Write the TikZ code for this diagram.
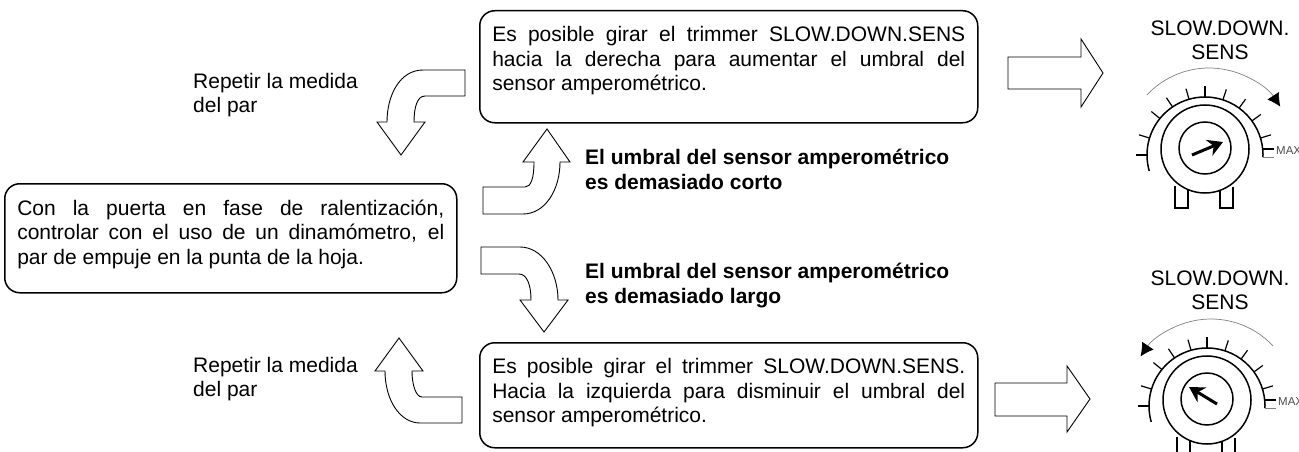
\documentclass[tikz,border=0pt]{standalone}
\usepackage{amsmath}
\usepackage{fontspec}
\setmainfont{Liberation Sans}
\usetikzlibrary{arrows.meta, positioning}
\tikzstyle{cuadro} = [draw=black, line width=1.5pt, rectangle, rounded corners=15pt, inner xsep=12.5pt, inner ysep=16pt, anchor=north west, font=\fontsize{21}{24.5}\selectfont]
\tikzstyle{texto} = [anchor=west, align=left, inner sep=0pt, font=\fontsize{21}{24.5}\selectfont]
\tikzstyle{rotulo} = [align=center, inner sep=0pt, font=\fontsize{21}{24.5}\selectfont]
\tikzstyle{flecha} = [draw=black, line width=0.9pt, fill=white, line join=miter]
\newcommand{\perilla}[6]{%
	\begin{scope}[shift={(#1)}, y=1pt]
		\draw[line width=1.5pt] (-2:58) arc (-2:196:58);
		\foreach \ang in {180,163,141,124,106,90,72,54,36,17}
			\draw[line width=1.2pt] (\ang:58) -- (\ang:69);
		\draw[line width=1.2pt] (58,6) -- (69,6);
		\draw[gray, line width=0.8pt] (58,-2) -- (69,-2);
		\draw[line width=1.5pt] (0,6) circle (44);
		\draw[line width=1.5pt] (0,7) circle (26);
		\draw[line width=1.5pt] (-30,-31) -- (-30,-53) -- (-17,-53) -- (-17,-35);
		\draw[line width=1.5pt] (15,-36) -- (15,-53) -- (28,-53) -- (28,-32);
		\draw[line width=3pt, -{Stealth[length=15pt,width=17pt]}] (#4) -- (#5);
		\draw[gray, line width=0.7pt, -{Latex[black,length=13pt,width=14pt]}] ([shift={(4,2)}]#2:85) arc (#2:#3:85);
		\node[anchor=west, inner sep=0pt, text=black!70, font=\fontsize{11.5}{12}\selectfont] (#6) at (71,4) {MAX};
	\end{scope}}

\begin{document}
\begin{tikzpicture}[x=1pt, y=-1pt]
	\useasboundingbox (0,0) rectangle (1299,452);
	\clip (0,0) rectangle (1299,452);
	\node [cuadro] (aumentar) at (479,10){%
		\begin{minipage}[c][80pt][t]{473pt}
			Es posible girar el trimmer SLOW.DOWN.SENS\linebreak
			hacia la derecha para aumentar el umbral del\linebreak
			sensor amperométrico.
		\end{minipage}};
	\node [cuadro] (disminuir) at (479,342){%
		\begin{minipage}[c][73pt][t]{473pt}
			Es posible girar el trimmer SLOW.DOWN.SENS.\linebreak
			Hacia la izquierda para disminuir el umbral del\linebreak
			sensor amperométrico.
		\end{minipage}};
	\node [cuadro] (control) at (4,183){%
		\begin{minipage}[c][77pt][t]{427pt}
			Con la puerta en fase de ralentización,\linebreak
			controlar con el uso de un dinamómetro, el\linebreak
			par de empuje en la punta de la hoja.
		\end{minipage}};

	\node [texto] (repetirA) at (193,95) {Repetir la medida\\del par};
	\node [texto] (repetirB) at (193,379) {Repetir la medida\\del par};
	\node [texto] (corto) at (585,169.5) {\textbf{El umbral del sensor amperométrico}\\\textbf{es demasiado corto}};
	\node [texto] (largo) at (585,285.5) {\textbf{El umbral del sensor amperométrico}\\\textbf{es demasiado largo}};

	% flechas curvas
	\draw[flecha] (465,70) -- (423,70) .. controls (400,70) and (387,95) .. (387,122) -- (377,122) -- (401,155) -- (425,122) -- (414,122) .. controls (414,108) and (417,96) .. (425,96) -- (465,96) -- cycle;
	\draw[flecha] (483,187) -- (525,187) .. controls (531,187) and (534,178) .. (534,162) -- (523,162) -- (547,129) -- (570,162) -- (560,162) .. controls (560,190) and (545,214) .. (523,214) -- (483,214) -- cycle;
	\draw[flecha] (481,247) -- (520,247) .. controls (542,247) and (558,272) .. (558,300) -- (568,300) -- (544,332) -- (520,300) -- (531,300) .. controls (531,285) and (527,274) .. (519,274) -- (481,274) -- cycle;
	\draw[flecha] (462,397) -- (422,397) .. controls (416,397) and (412,385) .. (412,371) -- (423,371) -- (399,338) -- (375,371) -- (385,371) .. controls (385,400) and (400,423) .. (420,423) -- (462,423) -- cycle;

	% flechas rectas
	\draw[flecha] (1008,57) -- (1081,57) -- (1081,39) -- (1103,73) -- (1081,107) -- (1081,89) -- (1008,89) -- cycle;
	\draw[flecha] (995,383) -- (1067,383) -- (1067,366) -- (1090,399) -- (1067,432) -- (1067,416) -- (995,416) -- cycle;

	\node [rotulo] (sensA) at (1220,40.5) {SLOW.DOWN.\\SENS};
	\node [rotulo] (sensB) at (1220,290.5) {SLOW.DOWN.\\SENS};
	\perilla{1205,155}{137}{33}{-13,0}{18,13}{maxA}
	\perilla{1207,406}{43}{146}{10,2}{-18,19}{maxB}
\end{tikzpicture}
\end{document}
